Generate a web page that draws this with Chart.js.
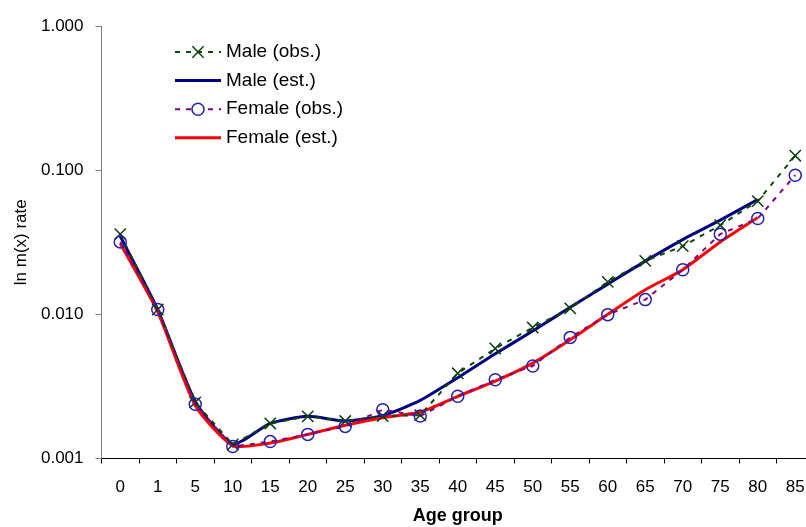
<!DOCTYPE html>
<html>
<head>
<meta charset="utf-8">
<script src="https://cdn.jsdelivr.net/npm/chart.js@4.4.1/dist/chart.umd.min.js"></script>
<style>
  html, body { margin: 0; padding: 0; background: #fff; overflow: hidden; }
  #wrap { width: 824px; height: 527px; }
</style>
</head>
<body>
<div id="wrap"><canvas id="myChart" width="824" height="527" style="width:824px;height:527px"></canvas></div>
<script>
// age groups
var ageGroups = ['0','1','5','10','15','20','25','30','35','40','45','50','55','60','65','70','75','80','85'];

var maleObs = [0.036, 0.0108, 0.00245, 0.00125, 0.00175, 0.00196, 0.00182, 0.00197, 0.0020, 0.0039, 0.0058, 0.0081, 0.011, 0.0168, 0.0235, 0.0297, 0.0415, 0.061, 0.126];
var maleEst = [0.0348, 0.0108, 0.00249, 0.00126, 0.00175, 0.00196, 0.00182, 0.00198, 0.00253, 0.00363, 0.00533, 0.00766, 0.0112, 0.0162, 0.0234, 0.033, 0.045, 0.0626, null];
var femaleObs = [0.0318, 0.0108, 0.00238, 0.00121, 0.00131, 0.00147, 0.00167, 0.00218, 0.00197, 0.0027, 0.00352, 0.00438, 0.00692, 0.00995, 0.01265, 0.0204, 0.036, 0.0462, 0.0923];
var femaleEst = [0.031, 0.0104, 0.00233, 0.00123, 0.00128, 0.00147, 0.0017, 0.00192, 0.0021, 0.0027, 0.00344, 0.00459, 0.00667, 0.01, 0.0148, 0.0204, 0.0318, 0.0469, null];

var yTicks = [0.001, 0.01, 0.1, 1];

var fontFam = 'Arial, "Liberation Sans", sans-serif';

// legend drawn inside the plot, top left
var insideLegend = {
    id: 'insideLegend',
    afterDatasetsDraw: function(chart) {
        var ctx = chart.ctx;
        var ds = chart.data.datasets;
        var x0 = 175, x1 = 221, y = 52, step = 28.6;
        ctx.save();
        for (var i = 0; i < ds.length; i++) {
            var d = ds[i];
            var yy = y + i * step;
            ctx.strokeStyle = d.borderColor;
            ctx.lineWidth = d.borderWidth;
            ctx.setLineDash(d.borderDash || []);
            ctx.beginPath();
            ctx.moveTo(x0, yy);
            ctx.lineTo(x1, yy);
            ctx.stroke();
            ctx.setLineDash([]);
            if (d.pointRadius > 0) {
                var r = d.pointRadius;
                var cx = (x0 + x1) / 2;
                ctx.strokeStyle = d.pointBorderColor;
                ctx.lineWidth = d.pointBorderWidth;
                if (d.pointStyle === 'circle') {
                    ctx.fillStyle = '#fff';
                    ctx.beginPath();
                    ctx.arc(cx, yy, r, 0, Math.PI * 2);
                    ctx.fill();
                    ctx.stroke();
                } else {
                    var k = r * 0.7071;
                    ctx.beginPath();
                    ctx.moveTo(cx - k, yy - k); ctx.lineTo(cx + k, yy + k);
                    ctx.moveTo(cx - k, yy + k); ctx.lineTo(cx + k, yy - k);
                    ctx.stroke();
                }
            }
            ctx.fillStyle = '#000';
            ctx.font = '19px ' + fontFam;
            ctx.textBaseline = 'middle';
            ctx.textAlign = 'left';
            ctx.fillText(d.label, 226, yy);
        }
        ctx.restore();
    }
};

var Dane = {
    labels: ageGroups,
    datasets: [{
        label: 'Male (obs.)',
        data: maleObs,
        borderColor: '#0b4a0b',
        borderWidth: 2,
        borderDash: [5, 6],
        pointStyle: 'crossRot',
        pointRadius: 8,
        pointBorderColor: '#0b3d0b',
        pointBorderWidth: 1.5,
        pointBackgroundColor: 'rgba(0,0,0,0)',
        tension: 0,
        order: 1
    }, {
        label: 'Male (est.)',
        data: maleEst,
        borderColor: '#000080',
        borderWidth: 3,
        pointRadius: 0,
        tension: 0.2,
        order: 3
    }, {
        label: 'Female (obs.)',
        data: femaleObs,
        borderColor: '#800080',
        borderWidth: 2,
        borderDash: [5, 6],
        pointStyle: 'circle',
        pointRadius: 6,
        pointBorderColor: '#2222b0',
        pointBorderWidth: 1.5,
        pointBackgroundColor: 'rgba(0,0,0,0)',
        tension: 0,
        order: 0
    }, {
        label: 'Female (est.)',
        data: femaleEst,
        borderColor: '#ff0000',
        borderWidth: 3,
        pointRadius: 0,
        tension: 0.2,
        order: 2
    }]
};

var ctx = document.getElementById('myChart').getContext('2d');
window.wykres = new Chart(ctx, {
    type: 'line',
    data: Dane,
    plugins: [insideLegend],
    options: {
        responsive: false,
        animation: false,
        devicePixelRatio: 1,
        layout: { padding: { top: 26, right: 10, left: 0, bottom: 0 } },
        plugins: {
            legend: { display: false },
            tooltip: { enabled: false }
        },
        scales: {
            x: {
                type: 'category',
                offset: true,
                grid: { offset: true, drawOnChartArea: false, drawTicks: true, tickLength: 5, color: '#000' },
                border: { color: '#000', width: 1 },
                ticks: { color: '#000', font: { family: fontFam, size: 17 }, padding: 14, maxRotation: 0, autoSkip: false },
                title: { display: true, text: 'Age group', color: '#000', font: { family: fontFam, size: 18, weight: 'bold' }, padding: { top: 0, bottom: 0 } },
                afterFit: function(scale) { scale.height = 68.5; }
            },
            y: {
                type: 'logarithmic',
                min: 0.001,
                max: 1,
                afterBuildTicks: function(scale) {
                    scale.ticks = yTicks.map(function(v) { return { value: v }; });
                },
                grid: { drawOnChartArea: false, drawTicks: true, tickLength: 6, color: '#808080' },
                border: { color: '#808080', width: 1 },
                ticks: {
                    color: '#000',
                    font: { family: fontFam, size: 17 },
                    padding: 12,
                    callback: function(value) { return Number(value).toFixed(3); }
                },
                title: { display: true, text: 'ln m(x) rate', color: '#000', font: { family: fontFam, size: 17 }, padding: { top: 11, bottom: 0 } },
                afterFit: function(scale) { scale.width = 101.5; }
            }
        }
    }
});
</script>
</body>
</html>
